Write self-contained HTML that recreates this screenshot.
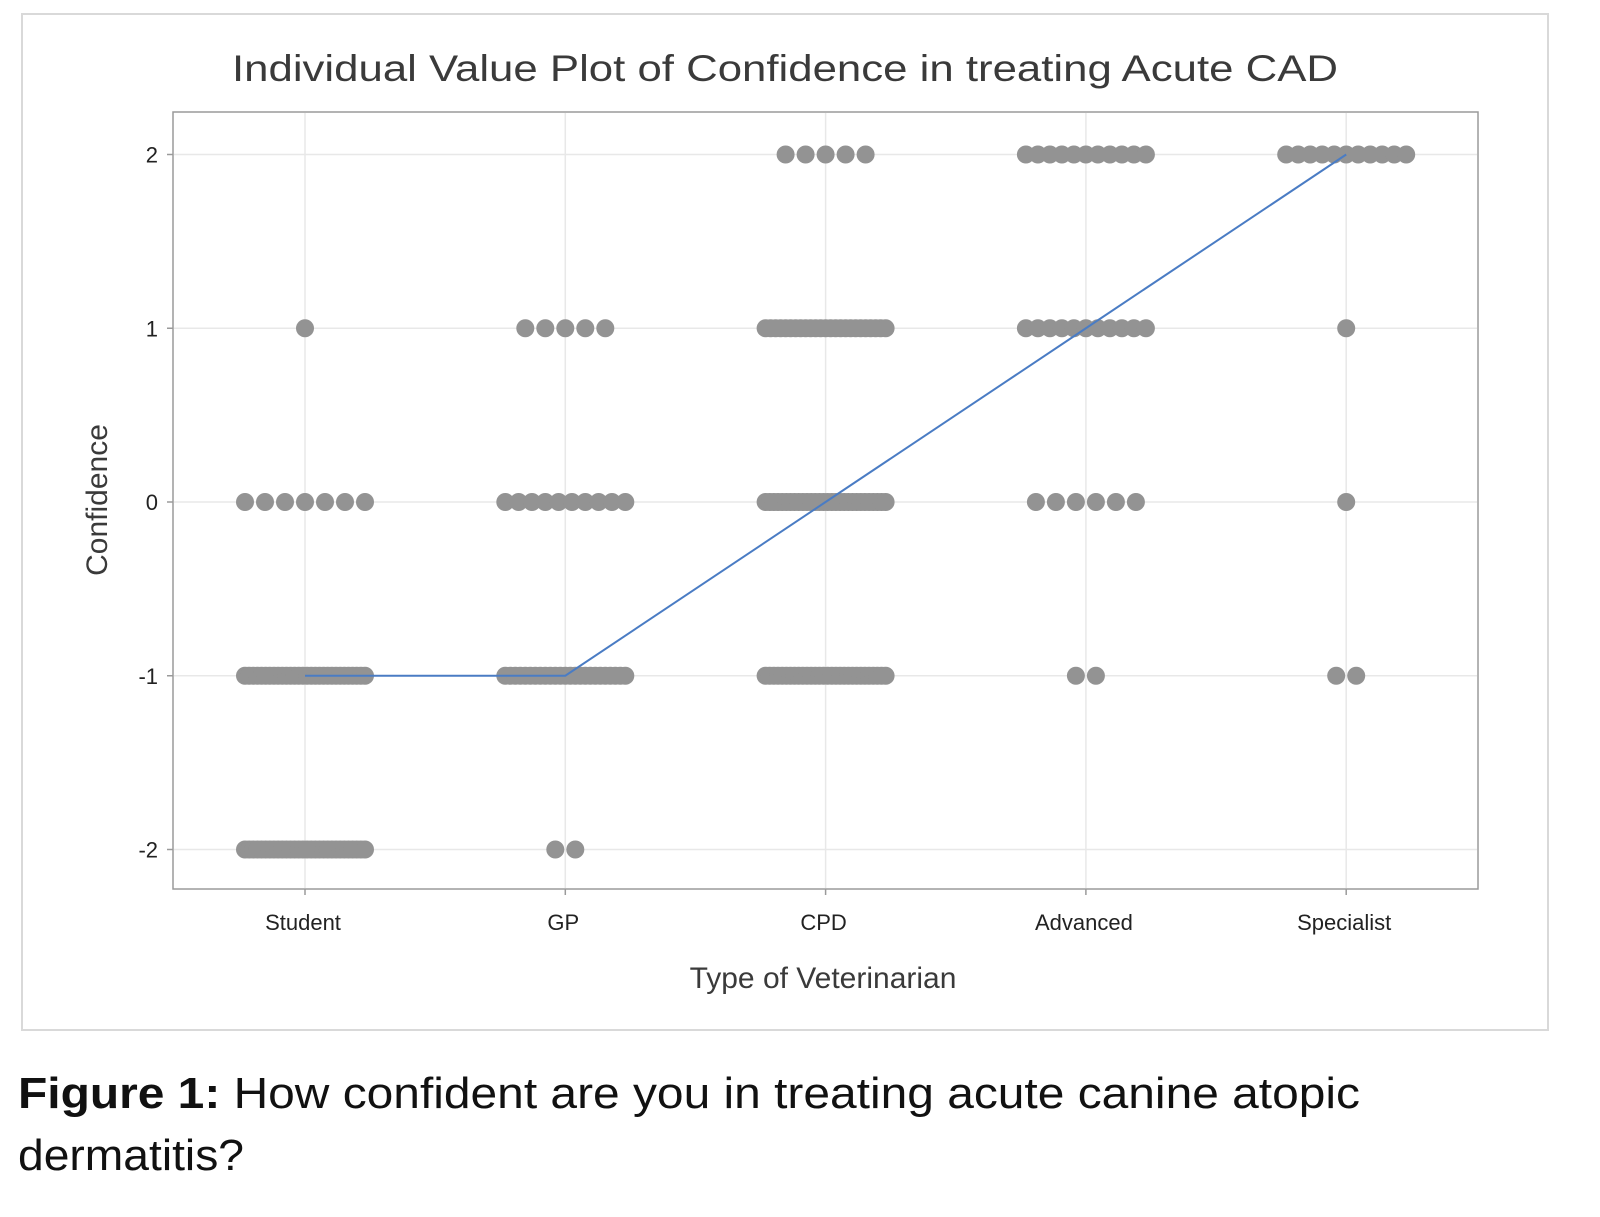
<!DOCTYPE html>
<html><head><meta charset="utf-8"><style>
html,body{margin:0;padding:0;background:#fff;}
svg{display:block;font-family:"Liberation Sans",sans-serif;}
</style></head><body>
<svg id="chart" width="1600" height="1217" viewBox="0 0 1600 1217" xmlns="http://www.w3.org/2000/svg">
<rect x="22" y="14" width="1526" height="1016" fill="#fff" stroke="#d9d9d9" stroke-width="2"/>
<text x="785" y="81" text-anchor="middle" font-size="37" fill="#3a3a3a" textLength="1106" lengthAdjust="spacingAndGlyphs">Individual Value Plot of Confidence in treating Acute CAD</text>
<g id="grid"></g>
<rect x="173" y="112" width="1305" height="777" fill="none" stroke="#9a9a9a" stroke-width="1.5"/>
<g id="dots"></g>
<polyline id="medianLine" fill="none" stroke="#4a7cc4" stroke-width="2"/>
<g id="axes"></g>
<text transform="translate(107,500) rotate(-90)" text-anchor="middle" font-size="30" fill="#3a3a3a">Confidence</text>
<text x="823" y="988" text-anchor="middle" font-size="30" fill="#3a3a3a">Type of Veterinarian</text>
<text x="18" y="1108" font-size="44" fill="#111" textLength="1342" lengthAdjust="spacingAndGlyphs"><tspan font-weight="bold">Figure 1:</tspan> How confident are you in treating acute canine atopic</text>
<text x="18" y="1170" font-size="44" fill="#111" textLength="226" lengthAdjust="spacingAndGlyphs">dermatitis?</text>
</svg>
<script>
const categories = ["Student","GP","CPD","Advanced","Specialist"];
const levels = [2,1,0,-1,-2];
const yTicks = [2,1,0,-1,-2];
// counts per category for levels 2,1,0,-1,-2
const countsStudent = [0,1,7,30,30];
const countsGP = [0,5,10,25,2];
const countsCPD = [5,25,30,30,0];
const countsAdvanced = [11,11,6,2,0];
const countsSpecialist = [11,1,1,2,0];
const allCounts = [countsStudent,countsGP,countsCPD,countsAdvanced,countsSpecialist];

const NS="http://www.w3.org/2000/svg";
const X0=305, XSTEP=260.3;
function xPos(i){return X0+i*XSTEP;}
function yPos(v){return 502-v*173.75;}
const grid=document.getElementById('grid');
const axes=document.getElementById('axes');
const dots=document.getElementById('dots');
function mk(tag,attrs,parent){const e=document.createElementNS(NS,tag);for(const k in attrs)e.setAttribute(k,attrs[k]);parent.appendChild(e);return e;}
yTicks.forEach(t=>{
  const l=mk('line',{x1:174,x2:1477,y1:yPos(t),y2:yPos(t),stroke:'#e8e8e8','stroke-width':1.5},grid);
  
  
  const tk=mk('line',{x1:167,x2:173,y1:yPos(t),y2:yPos(t),stroke:'#9a9a9a','stroke-width':1.5},axes);
  
  
  const tx=mk('text',{x:158,y:yPos(t)+8,'text-anchor':'end','font-size':22,fill:'#222'},axes);
  tx.textContent=String(t);
  
  
});
categories.forEach((c,i)=>{
  const l=mk('line',{x1:xPos(i),x2:xPos(i),y1:113,y2:888,stroke:'#e8e8e8','stroke-width':1.5},grid);
  
  
  const tk=mk('line',{x1:xPos(i),x2:xPos(i),y1:889,y2:895,stroke:'#9a9a9a','stroke-width':1.5},axes);
  
  
  const tx=mk('text',{x:xPos(i)-2,y:930,'text-anchor':'middle','font-size':22,fill:'#222'},axes);
  tx.textContent=c;
  
  
});
const medians=[];
allCounts.forEach((counts,i)=>{
  counts.forEach((n,j)=>{
    if(!n)return;
    const step=n>1?Math.min(20,120/(n-1)):0;
    for(let k=0;k<n;k++){
      const cx=xPos(i)+(k-(n-1)/2)*step;
      const d=mk('circle',{cx:cx,cy:yPos(levels[j]),r:9,fill:'#939393'},dots);
      
      
    }
  });
  // median
  const vals=[];counts.forEach((n,j)=>{for(let k=0;k<n;k++)vals.push(levels[j]);});
  vals.sort((a,b)=>a-b);
  const m=vals.length%2?vals[(vals.length-1)/2]:(vals[vals.length/2-1]+vals[vals.length/2])/2;
  medians.push(m);
});
document.getElementById('medianLine').setAttribute('points',medians.map((m,i)=>xPos(i)+','+yPos(m)).join(' '));
</script>
</body></html>
